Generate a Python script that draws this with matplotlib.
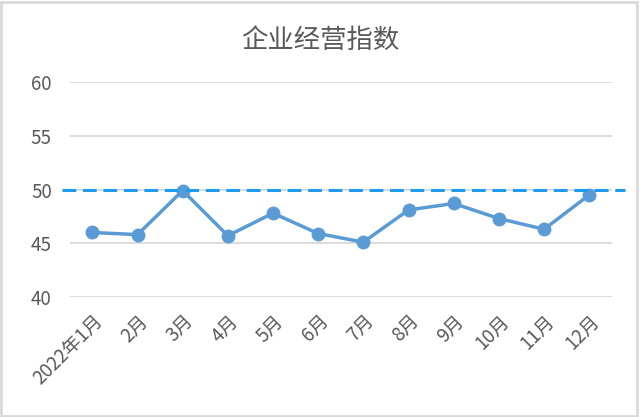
import matplotlib.pyplot as plt
from matplotlib.patches import Rectangle
from matplotlib.transforms import blended_transform_factory

plt.rcParams["font.family"] = ["Noto Sans CJK SC", "DejaVu Sans"]

months = ["2022年1月", "2月", "3月", "4月", "5月", "6月",
          "7月", "8月", "9月", "10月", "11月", "12月"]
index_values = [46.0, 45.8, 49.9, 45.7, 47.8, 45.9, 45.1, 48.1, 48.7, 47.3, 46.3, 49.5]
baseline = 50
y_ticks = [40, 45, 50, 55, 60]

text_color = "#595959"
grid_color = "#D9D9D9"

fig = plt.figure(figsize=(6.4, 4.17), dpi=100)
ax = fig.add_axes([0.109, 0.288, 0.847, 0.515])

x = list(range(len(months)))
ax.plot(x, index_values, color="#5B9BD5", linewidth=2.5, marker="o",
        markersize=9, zorder=3)

# 50 reference line, runs a bit past the plot area like the Excel original
trans = blended_transform_factory(ax.transAxes, ax.transData)
ax.plot([-0.015, 1.025], [baseline, baseline], transform=trans, clip_on=False,
        color="#1E9BEF", linewidth=2.2, linestyle=(0, (4.5, 2.2)), zorder=4)

ax.set_xlim(-0.5, len(months) - 0.5)
ax.set_ylim(40, 60)
ax.set_yticks(y_ticks)
ax.set_xticks(x)
ax.set_xticklabels(months, rotation=45, ha="right", rotation_mode="anchor")
ax.tick_params(axis="both", length=0, labelsize=13.5, labelcolor=text_color)
ax.tick_params(axis="y", pad=13)
ax.tick_params(axis="x", pad=10)
ax.grid(axis="y", color=grid_color, linewidth=1.3)
ax.set_axisbelow(True)
for s in ax.spines.values():
    s.set_visible(False)

fig.text(0.5, 0.902, "企业经营指数", ha="center", va="center",
         fontsize=19, color=text_color)

fig.patches.append(Rectangle((0.002, 0.003), 0.994, 0.993, transform=fig.transFigure,
                             fill=False, edgecolor=grid_color, linewidth=2))

fig.savefig("out.png", dpi=100)
